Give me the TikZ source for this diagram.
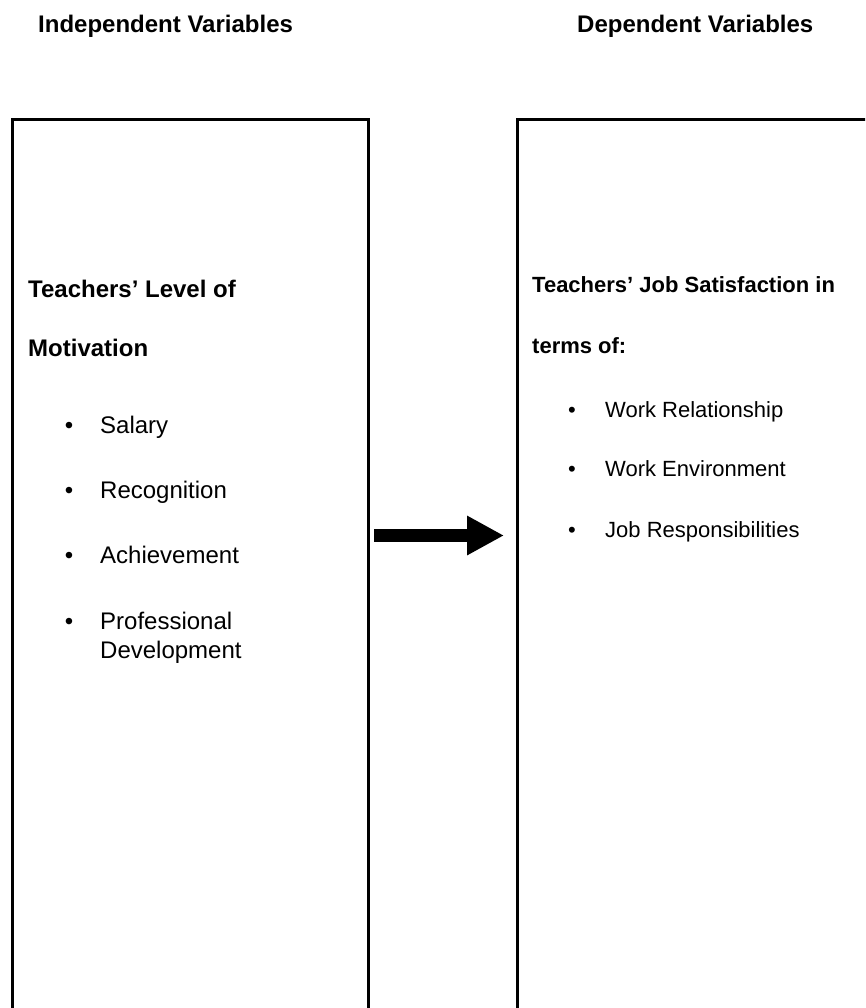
\documentclass[tikz,border=0pt]{standalone}
\usepackage{fontspec}
\setmainfont{Liberation Sans}
\usetikzlibrary{arrows.meta}
\tikzset{
  box/.style={draw=black, line width=3pt, rectangle, inner sep=0pt},
  head/.style={anchor=base west, inner sep=0pt, font=\bfseries\fontsize{24}{29}\selectfont},
  lhead/.style={anchor=base west, inner sep=0pt, font=\bfseries\fontsize{24}{29}\selectfont},
  rhead/.style={anchor=base west, inner sep=0pt, font=\bfseries\fontsize{22}{27}\selectfont},
  litem/.style={anchor=base west, inner sep=0pt, font=\fontsize{24}{29}\selectfont},
  ritem/.style={anchor=base west, inner sep=0pt, font=\fontsize{22}{27}\selectfont},
  lbul/.style={anchor=base, inner sep=0pt, font=\fontsize{24}{29}\selectfont},
  rbul/.style={anchor=base, inner sep=0pt, font=\fontsize{22}{27}\selectfont},
  bigarrow/.style={line width=13pt, -{Triangle[length=37pt,width=37pt]}}
}
\begin{document}
\begin{tikzpicture}[x=1pt,y=-1pt]
\useasboundingbox (0,0) rectangle (865,1008);
\clip (0,0) rectangle (865,1008);
\fill[white] (0,0) rectangle (865,1008);

% titles
\node[head] (tind) at (38,33) {Independent Variables};
\node[head] (tdep) at (577,33) {Dependent Variables};

% boxes (run off the page at the bottom and on the right)
\node[box, minimum width=356pt, minimum height=980pt] (lbox) at (190,610) {};
\node[box, minimum width=500pt, minimum height=980pt] (rbox) at (767,610) {};

% left box text
\node[lhead] (l1) at (28,297) {Teachers’ Level of};
\node[lhead] (l2) at (28,356) {Motivation};
\node[lbul] (lb1) at (69,433) {•};
\node[litem] (li1) at (100,433) {Salary};
\node[lbul] (lb2) at (69,498) {•};
\node[litem] (li2) at (100,498) {Recognition};
\node[lbul] (lb3) at (69,563) {•};
\node[litem] (li3) at (100,563) {Achievement};
\node[lbul] (lb4) at (69,629) {•};
\node[litem] (li4) at (100,629) {Professional};
\node[litem] (li5) at (100,658) {Development};

% right box text
\node[rhead] (r1) at (532,292) {Teachers’ Job Satisfaction in};
\node[rhead] (r2) at (532,353) {terms of:};
\node[rbul] (rb1) at (572,417) {•};
\node[ritem] (ri1) at (605,417) {Work Relationship};
\node[rbul] (rb2) at (572,476) {•};
\node[ritem] (ri2) at (605,476) {Work Environment};
\node[rbul] (rb3) at (572,537) {•};
\node[ritem] (ri3) at (605,537) {Job Responsibilities};

% arrow
\coordinate (as) at (374,535.5);
\coordinate (ae) at (504,535.5);
\draw[bigarrow] (as) -- (ae);
\end{tikzpicture}
\end{document}
